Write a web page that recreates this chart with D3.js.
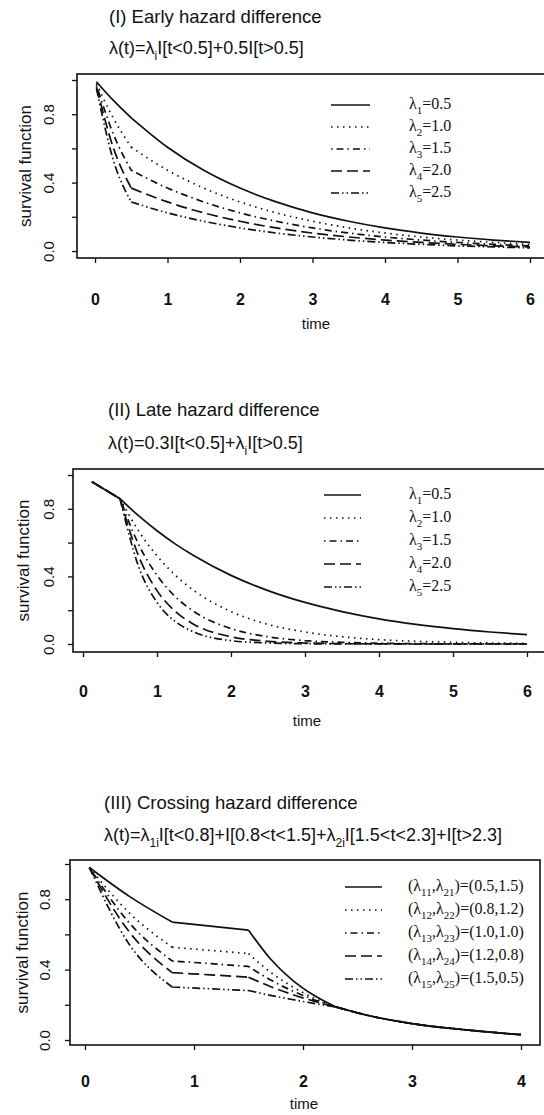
<!DOCTYPE html>
<html>
<head>
<meta charset="utf-8">
<script src="https://cdn.jsdelivr.net/npm/d3@7"></script>
<style>
  body { margin: 0; background: #fff; }
  svg { display: block; }
  text { font-family: "Liberation Sans", Arial, sans-serif; fill: #111; }
  .legend text { font-family: "Liberation Serif", "Times New Roman", serif; }
</style>
</head>
<body>
<svg id="chart" width="544" height="1115"></svg>
<script>
// (I) early hazard difference - survival
var earlyTime = [0.02, 0.25, 0.5, 1, 1.5, 2, 2.5, 3, 3.5, 4, 4.5, 5, 5.5, 6];
var earlyS1 = [0.99, 0.882, 0.779, 0.607, 0.472, 0.368, 0.287, 0.223, 0.174, 0.135, 0.105, 0.082, 0.064, 0.050];
var earlyS2 = [0.98, 0.779, 0.607, 0.472, 0.368, 0.287, 0.223, 0.174, 0.135, 0.105, 0.082, 0.064, 0.050, 0.039];
var earlyS3 = [0.97, 0.687, 0.472, 0.368, 0.287, 0.223, 0.174, 0.135, 0.105, 0.082, 0.064, 0.050, 0.039, 0.030];
var earlyS4 = [0.96, 0.607, 0.368, 0.287, 0.223, 0.174, 0.135, 0.105, 0.082, 0.064, 0.050, 0.039, 0.030, 0.024];
var earlyS5 = [0.95, 0.535, 0.287, 0.223, 0.174, 0.135, 0.105, 0.082, 0.064, 0.050, 0.039, 0.030, 0.024, 0.018];
var earlyRates = ["0.5", "1.0", "1.5", "2.0", "2.5"];

// (II) late hazard difference
var lateTime = [0.12, 0.5, 0.75, 1, 1.25, 1.5, 2, 2.5, 3, 3.5, 4, 4.5, 5, 5.5, 6];
var lateS1 = [0.96, 0.86, 0.759, 0.670, 0.591, 0.522, 0.406, 0.316, 0.246, 0.192, 0.149, 0.116, 0.091, 0.071, 0.055];
var lateS2 = [0.96, 0.86, 0.670, 0.522, 0.406, 0.316, 0.192, 0.116, 0.071, 0.043, 0.026, 0.016, 0.010, 0.006, 0.004];
var lateS3 = [0.96, 0.86, 0.591, 0.406, 0.279, 0.192, 0.091, 0.043, 0.020, 0.010, 0.005, 0.002, 0.001, 0.001, 0.000];
var lateS4 = [0.96, 0.86, 0.522, 0.316, 0.192, 0.116, 0.043, 0.016, 0.006, 0.002, 0.001, 0.000, 0.000, 0.000, 0.000];
var lateS5 = [0.96, 0.86, 0.460, 0.246, 0.132, 0.071, 0.020, 0.006, 0.002, 0.000, 0.000, 0.000, 0.000, 0.000, 0.000];
var lateRates = ["0.5", "1.0", "1.5", "2.0", "2.5"];

// (III) crossing hazard difference
var crossTime = [0.04, 0.4, 0.8, 1.15, 1.5, 1.7, 1.9, 2.1, 2.3, 2.6, 3.0, 3.5, 4.0];
var crossS1 = [0.98, 0.819, 0.670, 0.647, 0.624, 0.462, 0.342, 0.254, 0.188, 0.139, 0.093, 0.057, 0.030];
var crossS2 = [0.98, 0.726, 0.527, 0.509, 0.491, 0.386, 0.304, 0.239, 0.188, 0.139, 0.093, 0.057, 0.030];
var crossS3 = [0.98, 0.670, 0.449, 0.434, 0.418, 0.342, 0.280, 0.229, 0.188, 0.139, 0.093, 0.057, 0.030];
var crossS4 = [0.98, 0.619, 0.383, 0.370, 0.357, 0.304, 0.259, 0.221, 0.188, 0.139, 0.093, 0.057, 0.030];
var crossS5 = [0.98, 0.549, 0.301, 0.291, 0.281, 0.254, 0.230, 0.208, 0.188, 0.139, 0.093, 0.057, 0.030];
var crossPairs = ["(0.5,1.5)", "(0.8,1.2)", "(1.0,1.0)", "(1.2,0.8)", "(1.5,0.5)"];

var yTicks = [0, 0.2, 0.4, 0.6, 0.8, 1.0];
var yLabelled = ["0.0", "0.4", "0.8"];

// line types: solid, dotted, dot-dash, long dash, dash-dot-dot
var dashes = [null, "1.5,4.5", "1.5,4,7,4", "11,5", "8,3,1.5,3,1.5,3"];

var panels = [
  {
    title: "(I) Early hazard difference",
    formula: "λ(t)=λ_{i}I[t<0.5]+0.5I[t>0.5]",
    time: earlyTime, series: [earlyS1, earlyS2, earlyS3, earlyS4, earlyS5], breaks: [0.5],
    legend: earlyRates.map(function(r, i) { return "λ_{" + (i + 1) + "}=" + r; }),
    xTicks: [0, 1, 2, 3, 4, 5, 6],
    box: [77, 74, 548, 258], xr: [95, 530], yr: [251, 80],
    titleY: 23, formulaY: 54, textX: 109,
    tickPad: 31, timeY: 329, timeX: 316, ylabX: 31, yTickOff: 23,
    legY: 105, legStep: 22, legLine: [331, 370], legText: 409
  },
  {
    title: "(II) Late hazard difference",
    formula: "λ(t)=0.3I[t<0.5]+λ_{i}I[t>0.5]",
    time: lateTime, series: [lateS1, lateS2, lateS3, lateS4, lateS5], breaks: [0.5],
    legend: lateRates.map(function(r, i) { return "λ_{" + (i + 1) + "}=" + r; }),
    xTicks: [0, 1, 2, 3, 4, 5, 6],
    box: [73, 469, 548, 652], xr: [83, 527], yr: [644, 475],
    titleY: 416, formulaY: 449, textX: 108,
    tickPad: 29, timeY: 726, timeX: 307, ylabX: 29, yTickOff: 19,
    legY: 495, legStep: 23, legLine: [324, 361], legText: 409
  },
  {
    title: "(III) Crossing hazard difference",
    formula: "λ(t)=λ_{1i}I[t<0.8]+I[0.8<t<1.5]+λ_{2i}I[1.5<t<2.3]+I[t>2.3]",
    time: crossTime, series: [crossS1, crossS2, crossS3, crossS4, crossS5], breaks: [0.8, 1.5, 2.3],
    legend: crossPairs.map(function(p, i) { return "(λ_{1" + (i + 1) + "},λ_{2" + (i + 1) + "})=" + p; }),
    xTicks: [0, 1, 2, 3, 4],
    box: [70, 860, 540, 1045], xr: [85, 521], yr: [1040, 864],
    titleY: 809, formulaY: 841, textX: 104,
    tickPad: 26, timeY: 1109, timeX: 304, ylabX: 28, yTickOff: 20,
    legY: 887, legStep: 23, legLine: [345, 382], legText: 408
  }
];

var svg = d3.select("#chart");

// write "a_{b}c" as text with a lowered small part
function richText(sel, str, size) {
  var shift = Math.round(size * 0.32);
  var down = false;
  str.split(/(_\{[^}]*\})/).forEach(function(part) {
    if (!part) return;
    if (part.indexOf("_{") === 0) {
      sel.append("tspan").attr("dy", shift).style("font-size", Math.round(size * 0.68) + "px").text(part.slice(2, -1));
      down = true;
    } else {
      sel.append("tspan").attr("dy", down ? -shift : 0).text(part);
      down = false;
    }
  });
}

// split a curve at the hazard change points so the knees stay sharp
function pieces(time, vals, breaks) {
  var cuts = [time[0]].concat(breaks, [time[time.length - 1]]);
  var pts = time.map(function(t, i) { return [t, vals[i]]; });
  var out = [];
  for (var k = 0; k < cuts.length - 1; k++) {
    out.push(pts.filter(function(p) { return p[0] >= cuts[k] - 1e-9 && p[0] <= cuts[k + 1] + 1e-9; }));
  }
  return out;
}

panels.forEach(function(p) {
  var x = d3.scaleLinear().domain([0, p.xTicks[p.xTicks.length - 1]]).range(p.xr);
  var y = d3.scaleLinear().domain([0, 1]).range(p.yr);
  var g = svg.append("g");

  g.append("text").attr("x", p.textX).attr("y", p.titleY)
    .style("font-size", "18.5px").text(p.title);
  richText(g.append("text").attr("x", p.textX).attr("y", p.formulaY).style("font-size", "18px"), p.formula, 18);

  // frame
  g.append("rect")
    .attr("x", p.box[0]).attr("y", p.box[1])
    .attr("width", p.box[2] - p.box[0]).attr("height", p.box[3] - p.box[1])
    .attr("fill", "none").attr("stroke", "#111").attr("stroke-width", 1.6);

  // x axis
  var xa = g.append("g").attr("transform", "translate(0," + p.box[3] + ")")
    .call(d3.axisBottom(x).tickValues(p.xTicks).tickFormat(d3.format("d"))
      .tickSize(5).tickSizeOuter(0).tickPadding(p.tickPad));
  xa.select(".domain").remove();
  xa.selectAll("line").attr("stroke", "#111").attr("stroke-width", 1.3);
  xa.selectAll("text").style("font-size", "16px").style("font-weight", "bold")
    .style("font-family", "'Liberation Sans', Arial, sans-serif").attr("fill", "#111");

  // y axis, labels turned along the axis
  var ya = g.append("g").attr("transform", "translate(" + p.box[0] + ",0)")
    .call(d3.axisLeft(y).tickValues(yTicks).tickSize(5).tickSizeOuter(0)
      .tickFormat(function(d) { var s = d3.format(".1f")(d); return yLabelled.indexOf(s) >= 0 ? s : ""; }));
  ya.select(".domain").remove();
  ya.selectAll("line").attr("stroke", "#111").attr("stroke-width", 1.3);
  ya.selectAll("text")
    .attr("x", 0).attr("y", -p.yTickOff).attr("dy", 0)
    .attr("transform", "rotate(-90)")
    .attr("text-anchor", "middle").attr("fill", "#111")
    .style("font-size", "15px").style("font-family", "'Liberation Sans', Arial, sans-serif");

  g.append("text").attr("x", p.timeX).attr("y", p.timeY).attr("text-anchor", "middle")
    .style("font-size", "15px").text("time");
  g.append("text")
    .attr("transform", "translate(" + p.ylabX + "," + ((p.box[1] + p.box[3]) / 2) + ") rotate(-90)")
    .attr("text-anchor", "middle").style("font-size", "17px").text("survival function");

  // curves
  var line = d3.line()
    .x(function(d) { return x(d[0]); })
    .y(function(d) { return y(d[1]); })
    .curve(d3.curveMonotoneX);

  p.series.forEach(function(vals, i) {
    g.append("path")
      .attr("d", pieces(p.time, vals, p.breaks).map(function(seg) { return line(seg); }).join(""))
      .attr("fill", "none").attr("stroke", "#111").attr("stroke-width", 1.7)
      .attr("stroke-dasharray", dashes[i]);
  });

  // legend
  var leg = g.append("g").attr("class", "legend");
  p.legend.forEach(function(lab, i) {
    var ly = p.legY + i * p.legStep;
    leg.append("line")
      .attr("x1", p.legLine[0]).attr("x2", p.legLine[1]).attr("y1", ly).attr("y2", ly)
      .attr("stroke", "#111").attr("stroke-width", 1.7).attr("stroke-dasharray", dashes[i]);
    richText(leg.append("text").attr("x", p.legText).attr("y", ly + 4).style("font-size", "16px"), lab, 16);
  });
});
</script>
</body>
</html>
